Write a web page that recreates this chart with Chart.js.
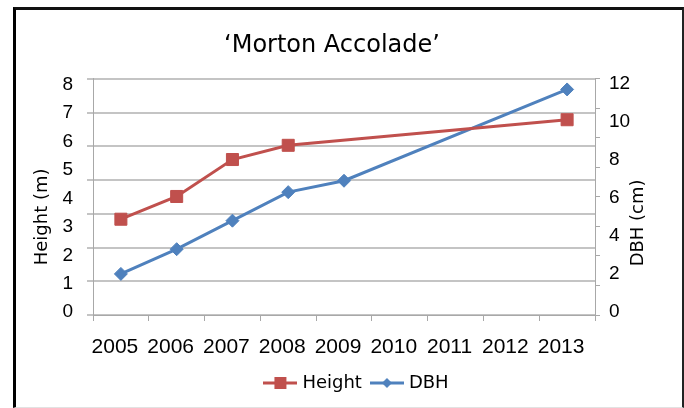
<!DOCTYPE html>
<html>
<head>
<meta charset="utf-8">
<script src="https://cdn.jsdelivr.net/npm/chart.js@4.4.0/dist/chart.umd.min.js"></script>
<style>
  html, body { margin: 0; padding: 0; background: #fff; }
  #wrap { position: relative; width: 684px; height: 408px; }
  #chart { position: absolute; left: 0; top: 0; }
  #frame {
    position: absolute; left: 13px; top: 7px; right: 0; bottom: 0; box-sizing: border-box;
    border-top: 3px solid #111; border-left: 3px solid #000;
    border-right: 2px solid #222; border-bottom: 1px solid #e2e2e2;
    pointer-events: none;
  }
</style>
</head>
<body>
<div id="wrap">
  <canvas id="chart" width="684" height="408"></canvas>
  <div id="frame"></div>
</div>
<script>
// data
const years   = ["2005", "2006", "2007", "2008", "2009", "2010", "2011", "2012", "2013"];
const heightM = [3.2, 4.0, 5.3, 5.8, null, null, null, null, 6.7];
const dbhCm   = [1.9, 3.2, 4.7, 6.2, 6.8, null, null, null, 11.6];
const chartTitle = "‘Morton Accolade’";
const leftTitle  = "Height (m)";
const rightTitle = "DBH (cm)";

const RED  = "#c0504d";
const BLUE = "#4f81bd";
const GRID = "#c4c4c4";
const AXIS = "#a8a8a8";
const TICKF = '"Liberation Sans", Arial, sans-serif';
const SANS  = '"DejaVu Sans", sans-serif';

/* legend icons: line with marker in the middle */
function legendIcon(color, style){
  const c = document.createElement("canvas");
  c.width = 34; c.height = 14;
  const g = c.getContext("2d");
  g.strokeStyle = color; g.fillStyle = color; g.lineWidth = 3;
  g.beginPath(); g.moveTo(0, 7); g.lineTo(34, 7); g.stroke();
  g.beginPath();
  if (style === "rect") g.rect(11, 1, 12, 12);
  else { g.moveTo(17, 2); g.lineTo(22, 7); g.lineTo(17, 12); g.lineTo(12, 7); g.closePath(); }
  g.fill();
  return c;
}
const icons = [legendIcon(RED, "rect"), legendIcon(BLUE, "diamond")];

/* axis titles, both read bottom-to-top */
const sideTitles = {
  id: "sideTitles",
  afterDraw(chart){
    const { ctx, chartArea, scales } = chart;
    const mid = (chartArea.top + chartArea.bottom) / 2;
    ctx.save();
    ctx.font = "18px " + SANS;
    ctx.fillStyle = "#000";
    ctx.textAlign = "center";
    ctx.textBaseline = "middle";
    [[scales.y.left + 10, mid + 20, leftTitle], [scales.y1.right - 46, mid + 26, rightTitle]].forEach(([x, y, s]) => {
      ctx.save(); ctx.translate(x, y); ctx.rotate(-Math.PI / 2); ctx.fillText(s, 0, 0); ctx.restore();
    });
    ctx.restore();
  }
};

/* title sits a little left of the plot centre in the original */
const titleShift = {
  id: "titleShift",
  afterLayout(chart){
    const t = chart.titleBlock;
    if (t){ t.left -= 12; t.right -= 12; }
  }
};

new Chart(document.getElementById("chart"), {
  type: "line",
  data: {
    labels: years,
    datasets: [
      { label: "Height", data: heightM, yAxisID: "y", borderColor: RED, backgroundColor: RED,
        borderWidth: 3, pointStyle: "rect", pointRadius: 8.5, pointBorderWidth: 1, spanGaps: true },
      { label: "DBH", data: dbhCm, yAxisID: "y1", borderColor: BLUE, backgroundColor: BLUE,
        borderWidth: 3, pointStyle: "rectRot", pointRadius: 6.5, pointBorderWidth: 1, spanGaps: true },
    ]
  },
  options: {
    responsive: false,
    animation: false,
    layout: { padding: { top: 10, left: 32, right: 0, bottom: 6 } },
    plugins: {
      title: { display: true, text: chartTitle, fullSize: false, color: "#000",
        font: { family: SANS, size: 24, weight: "normal" }, padding: { top: 21, bottom: 19 } },
      legend: {
        position: "bottom",
        labels: {
          usePointStyle: true, pointStyleWidth: 26, padding: 12, color: "#000",
          font: { family: SANS, size: 18 },
          generateLabels: chart => Chart.defaults.plugins.legend.labels.generateLabels(chart)
            .map((it, i) => Object.assign(it, { pointStyle: icons[i] })),
        }
      },
      tooltip: { enabled: false },
    },
    scales: {
      x: {
        offset: true,
        grid: { offset: true, drawOnChartArea: false, tickLength: 6, color: AXIS },
        border: { color: AXIS },
        ticks: { padding: 14, labelOffset: -6, color: "#000", autoSkip: false, maxRotation: 0,
          font: { family: TICKF, size: 21 } },
        afterFit: s => { s.height = 47; },
      },
      g: {
        position: "left", weight: 0, min: 0, max: 7,
        ticks: { display: false, stepSize: 1 },
        grid: { color: GRID, lineWidth: 2, tickLength: 6 },
        border: { color: AXIS },
        afterFit: s => { s.width = 6; },
      },
      y: {
        position: "left", weight: 1, min: -0.17, max: 8.14,
        ticks: { stepSize: 1, includeBounds: false, padding: 14, labelOffset: 2, color: "#000",
          font: { family: TICKF, size: 19 } },
        grid: { display: false, drawTicks: false },
        border: { display: false },
        afterFit: s => { s.width = 55; },
      },
      g2: {
        position: "right", weight: 0, min: 0, max: 8,
        ticks: { display: false, stepSize: 1 },
        grid: { drawOnChartArea: false, tickLength: 5, color: AXIS },
        border: { color: AXIS },
        afterFit: s => { s.width = 5; },
      },
      y1: {
        position: "right", weight: 1, min: -0.26, max: 12.16,
        ticks: { stepSize: 2, includeBounds: false, padding: 9, labelOffset: 2, color: "#000",
          font: { family: TICKF, size: 19 } },
        grid: { display: false, drawTicks: false },
        border: { display: false },
        afterFit: s => { s.width = 84; },
      },
    }
  },
  plugins: [sideTitles, titleShift]
});
</script>
</body>
</html>
